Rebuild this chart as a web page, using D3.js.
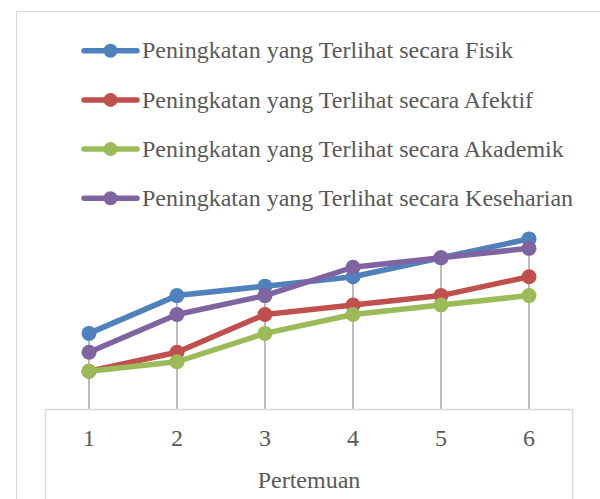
<!DOCTYPE html>
<html><head><meta charset="utf-8">
<script src="https://cdn.jsdelivr.net/npm/d3@7"></script>
<style>html,body{margin:0;padding:0;background:#fff;overflow:hidden}</style>
</head><body>
<svg id="c" width="600" height="499"></svg>
<script>
const categories = ["1","2","3","4","5","6"];
const seriesNames = [
  "Peningkatan yang Terlihat secara Fisik",
  "Peningkatan yang Terlihat secara Afektif",
  "Peningkatan yang Terlihat secara Akademik",
  "Peningkatan yang Terlihat secara Keseharian"
];
const fisik = [8,12,13,14,16,18];
const afektif = [4,6,10,11,12,14];
const akademik = [4,5,8,10,11,12];
const keseharian = [6,10,12,15,16,17];
const colors = ["#4F81BD","#C0504D","#9BBB59","#8064A2"];
const xTitle = "Pertemuan";

const series = [fisik, afektif, akademik, keseharian].map((v,i)=>({name:seriesNames[i], values:v, color:colors[i]}));

const svg = d3.select("#c");
const font = "'Liberation Serif','Times New Roman',serif";
const textColor = "#595959";

// outer chart border
svg.append("rect").attr("x",16.5).attr("y",11.5).attr("width",620).attr("height",520)
  .attr("fill","none").attr("stroke","#D9D9D9").attr("stroke-width",1);

const x = d3.scaleBand().domain(categories).range([45,573]);
const y = d3.scaleLinear().domain([0,20]).range([409,220]);
const cx = d => x(d) + x.bandwidth()/2;

// drop lines
const maxByCat = categories.map((c,i)=>d3.max(series,s=>s.values[i]));
svg.append("g").selectAll("line").data(categories).join("line")
  .attr("x1",d=>cx(d)).attr("x2",d=>cx(d))
  .attr("y1",(d,i)=>y(maxByCat[i])).attr("y2",y(0))
  .attr("stroke","#A6A6A6").attr("stroke-width",1.5);

// axis box
const axisG = svg.append("g");
axisG.append("line").attr("x1",45).attr("x2",573).attr("y1",409.5).attr("y2",409.5).attr("stroke","#D9D9D9").attr("stroke-width",1.5);
axisG.append("line").attr("x1",45.5).attr("x2",45.5).attr("y1",409).attr("y2",499).attr("stroke","#D9D9D9").attr("stroke-width",1.5);
axisG.append("line").attr("x1",572.5).attr("x2",572.5).attr("y1",409).attr("y2",499).attr("stroke","#D9D9D9").attr("stroke-width",1.5);

const xAxis = d3.axisBottom(x).tickSize(0).tickPadding(0);
const ax = svg.append("g").attr("transform","translate(0,409)").call(xAxis);
ax.select(".domain").remove();
ax.selectAll("text").attr("dy",null).attr("y",37).attr("fill",textColor)
  .style("font-family",font).style("font-size","24px");

svg.append("text").attr("x",309).attr("y",488).attr("text-anchor","middle")
  .attr("fill",textColor).style("font-family",font).style("font-size","24px").text(xTitle);

// lines
const line = d3.line().x((d,i)=>cx(categories[i])).y(d=>y(d));
series.forEach(s=>{
  svg.append("path").datum(s.values).attr("d",line).attr("fill","none")
    .attr("stroke",s.color).attr("stroke-width",5.5).attr("stroke-linejoin","round").attr("stroke-linecap","round");
  svg.append("g").selectAll("circle").data(s.values).join("circle")
    .attr("cx",(d,i)=>cx(categories[i])).attr("cy",d=>y(d)).attr("r",7.5).attr("fill",s.color);
});

// legend
const leg = svg.append("g");
series.forEach((s,i)=>{
  const by = 58.3 + i*49.2;
  const ly = by - 7.6;
  leg.append("line").attr("x1",84).attr("x2",137).attr("y1",ly).attr("y2",ly)
    .attr("stroke",s.color).attr("stroke-width",5.5).attr("stroke-linecap","round");
  leg.append("circle").attr("cx",110.5).attr("cy",ly).attr("r",7).attr("fill",s.color);
  leg.append("text").attr("x",142).attr("y",by).attr("fill",textColor)
    .style("font-family",font).style("font-size","24px").text(s.name);
});
</script>
</body></html>
